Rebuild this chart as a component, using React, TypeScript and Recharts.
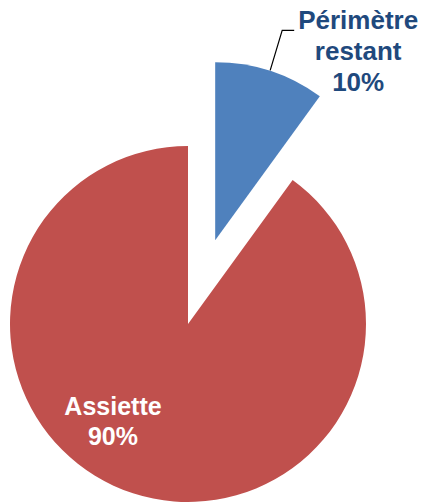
import { Cell, Pie, PieChart } from "recharts"

const names = ["Assiette", "Périmètre restant"]
const values = [90, 10]
const percentLabels = ["90%", "10%"]
const colors = ["#C0504D", "#4F81BD"]

const data = names.map((name, i) => ({ name, value: values[i] }))

const total = values.reduce((a, b) => a + b, 0)
const START = 54
const cx = 188
const cy = 324
const R = 178
const EXPLODE = 88

// mid angle of the exploded slice (index 1)
const sliceStart = START - (values[0] / total) * 360
const sliceMid = sliceStart - ((values[1] / total) * 360) / 2
const rad = (sliceMid * Math.PI) / 180
const ecx = cx + EXPLODE * Math.cos(rad)
const ecy = cy - EXPLODE * Math.sin(rad)

const font = "'Liberation Sans', Arial, sans-serif"

function renderAssiette(props: any) {
  if (props.index !== 0) return null
  const x = props.cx - 75
  const y = props.cy + 91
  return (
    <text x={x} y={y} textAnchor="middle" fill="#ffffff" fontFamily={font} fontWeight="bold" fontSize={25}>
      <tspan x={x} y={y}>{names[0]}</tspan>
      <tspan x={x} y={y + 30}>{percentLabels[0]}</tspan>
    </text>
  )
}

function renderPerimetre(props: any) {
  if (props.index !== 1) return null
  const x = props.cx + 143
  const y = props.cy - 211
  const [w1, w2] = names[1].split(" ")
  return (
    <g>
      <polyline
        points={`${props.cx + 55},${props.cy - 170} ${props.cx + 67},${props.cy - 210} ${props.cx + 79},${props.cy - 210}`}
        fill="none"
        stroke="#000000"
        strokeWidth={1.2}
      />
      <text x={x} y={y} textAnchor="middle" fill="#1F497D" fontFamily={font} fontWeight="bold" fontSize={26}>
        <tspan x={x} y={y}>{w1}</tspan>
        <tspan x={x} y={y + 31}>{w2}</tspan>
        <tspan x={x} y={y + 62}>{percentLabels[1]}</tspan>
      </text>
    </g>
  )
}

export default function App() {
  return (
    <div style={{ position: "absolute", left: 0, top: 0, width: 423, height: 503, background: "#ffffff" }}>
      <PieChart width={423} height={503} margin={{ top: 0, right: 0, bottom: 0, left: 0 }}>
        <Pie
          data={data}
          dataKey="value"
          cx={cx}
          cy={cy}
          outerRadius={R}
          startAngle={START}
          endAngle={START - 360}
          stroke="none"
          isAnimationActive={false}
          label={renderAssiette}
          labelLine={false}
        >
          {data.map((d, i) => (
            <Cell key={`a-${i}`} fill={i === 0 ? colors[0] : "none"} />
          ))}
        </Pie>
        <Pie
          data={data}
          dataKey="value"
          cx={ecx}
          cy={ecy}
          outerRadius={R}
          startAngle={START}
          endAngle={START - 360}
          stroke="none"
          isAnimationActive={false}
          label={renderPerimetre}
          labelLine={false}
        >
          {data.map((d, i) => (
            <Cell key={`b-${i}`} fill={i === 1 ? colors[1] : "none"} />
          ))}
        </Pie>
      </PieChart>
    </div>
  )
}
